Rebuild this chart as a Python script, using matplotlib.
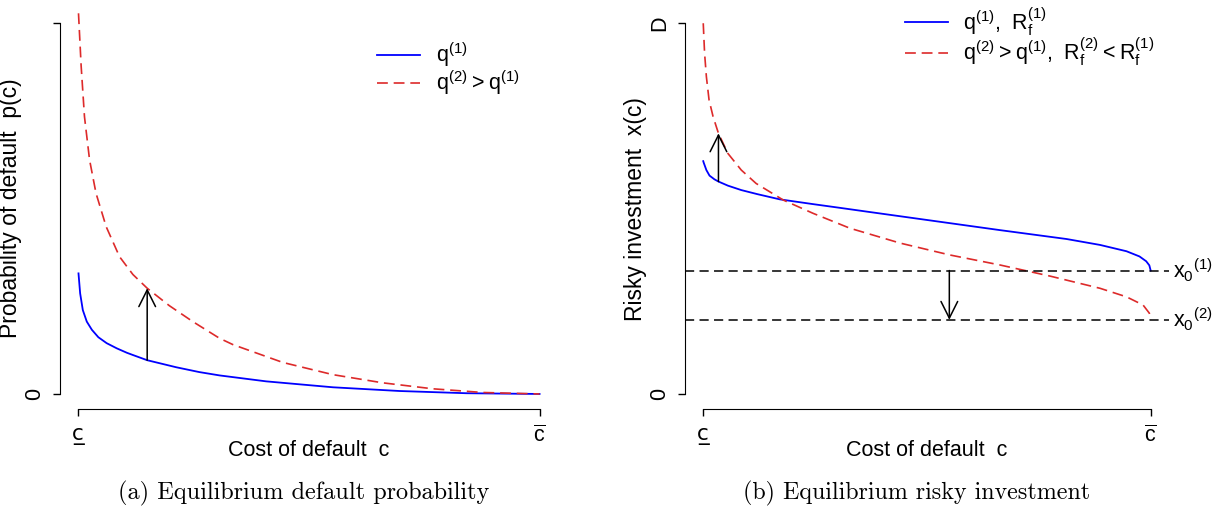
import numpy as np
import matplotlib
matplotlib.use("Agg")
import matplotlib.pyplot as plt

plt.rcParams['font.family'] = ['Liberation Sans', 'DejaVu Sans']

# (a) default probability, cost of default scaled to [0, 1]
c_a_blue = [0, 0.0036, 0.0094, 0.018, 0.029, 0.043, 0.061, 0.083, 0.105, 0.118,
            0.149, 0.212, 0.262, 0.306, 0.407, 0.552, 0.696, 0.841, 1.0]
p_q1 = [0.325, 0.271, 0.226, 0.195, 0.173, 0.153, 0.137, 0.123, 0.111, 0.105,
        0.091, 0.072, 0.059, 0.050, 0.034, 0.018, 0.008, 0.002, 0.0]
c_a_red = [0, 0.0058, 0.013, 0.024, 0.038, 0.06, 0.089, 0.118, 0.149, 0.197,
           0.248, 0.306, 0.335, 0.443, 0.552, 0.66, 0.768, 0.877, 1.0]
p_q2 = [1.026, 0.883, 0.747, 0.631, 0.541, 0.451, 0.370, 0.322, 0.285, 0.238,
        0.195, 0.150, 0.133, 0.085, 0.052, 0.030, 0.014, 0.004, 0.0]
arrow_a = (0.149, 0.091, 0.285)  # x, from, to

# (b) risky investment, scaled so that D = 1
c_b_blue = [0, 0.001, 0.007, 0.014, 0.025, 0.034, 0.055, 0.085, 0.121, 0.171,
            0.246, 0.306, 0.365, 0.514, 0.663, 0.812, 0.887, 0.946, 0.975,
            0.99, 0.997, 1.0]
x_q1 = [0.628, 0.624, 0.604, 0.589, 0.579, 0.573, 0.562, 0.550, 0.539, 0.525,
        0.512, 0.502, 0.492, 0.467, 0.442, 0.418, 0.402, 0.385, 0.371,
        0.358, 0.347, 0.333]
c_b_red = [0, 0.003, 0.007, 0.013, 0.022, 0.034, 0.055, 0.085, 0.118, 0.179,
           0.246, 0.328, 0.44, 0.551, 0.663, 0.775, 0.887, 0.946, 0.983, 0.997, 1.0]
x_q2 = [1.0, 0.919, 0.856, 0.793, 0.748, 0.703, 0.649, 0.604, 0.568, 0.523,
        0.487, 0.447, 0.407, 0.375, 0.348, 0.318, 0.285, 0.262, 0.24, 0.218, 0.2]
x0_levels = [0.333, 0.2]
x0_labels = [r'$\mathregular{{x_0}^{(1)}}$', r'$\mathregular{{x_0}^{(2)}}$']
arrow_b_up = (0.034, 0.573, 0.703)
arrow_b_down = (0.55, 0.333, 0.2)

xtick_labels = ['c\u0332', r'$\mathregular{\overline{c}}$']

blue = '#0000ff'
red = '#dd2a2a'
fs = 15.5

fig = plt.figure(figsize=(12.28, 5.13), dpi=100)
ax1 = fig.add_axes([0.0489, 0.2031, 0.4055, 0.7811])
ax2 = fig.add_axes([0.5581, 0.2031, 0.3935, 0.7805])


def style_axes(ax):
    # R-like detached axes
    ax.set_xlim(-0.04, 1.04)
    ax.set_ylim(-0.04, 1.04)
    for s in ['top', 'right']:
        ax.spines[s].set_visible(False)
    ax.spines['left'].set_bounds(0, 1)
    ax.spines['bottom'].set_bounds(0, 1)
    ax.set_xticks([0, 1])
    ax.set_xticklabels(xtick_labels, fontsize=fs)
    # underlined c: DejaVu puts the combining low line under the letter
    ax.get_xticklabels()[0].set_family('DejaVu Sans')
    ax.tick_params(axis='both', length=5, width=1, pad=6)
    ax.tick_params(axis='x', pad=7)
    ax.set_xlabel('Cost of default  c', fontsize=fs)
    ax.xaxis.set_label_coords(0.5, -0.078)


def draw_arrow(ax, x, y0, y1):
    ax.annotate('', xy=(x, y1), xytext=(x, y0),
                arrowprops=dict(arrowstyle='->,head_length=0.6,head_width=0.3',
                                mutation_scale=20, lw=1.1, color='black',
                                shrinkA=0, shrinkB=0))


# panel (a)
ax1.plot(c_a_blue, p_q1, color=blue, lw=1.3, label=r'$\mathregular{q^{(1)}}$')
ax1.plot(c_a_red, p_q2, color=red, lw=1.2, dashes=(6.5, 3.5), clip_on=False,
         label=r'$\mathregular{q^{(2)} > q^{(1)}}$')
draw_arrow(ax1, *arrow_a)
style_axes(ax1)
ax1.set_yticks([0, 1])
ax1.set_yticklabels(['0', ''], fontsize=fs, rotation=90, va='center')
ax1.set_ylabel('Probability of default  p(c)', fontsize=16.5)
ax1.yaxis.set_label_coords(-0.076, 0.5)
ax1.legend(loc='upper left', bbox_to_anchor=(0.62, 0.94), frameon=False,
           fontsize=fs, handlelength=2.0, handletextpad=0.7, labelspacing=-0.03,
           borderaxespad=0)

# panel (b)
ax2.plot(c_b_blue, x_q1, color=blue, lw=1.3, label=r'$\mathregular{q^{(1)},\ R_f^{(1)}}$')
ax2.plot(c_b_red, x_q2, color=red, lw=1.2, dashes=(6.5, 3.5),
         label=r'$\mathregular{q^{(2)} > q^{(1)},\ R_f^{(2)} < R_f^{(1)}}$')
for lev, lab in zip(x0_levels, x0_labels):
    ax2.axhline(lev, color='black', lw=1.1, dashes=(6, 3.5))
    ax2.text(1.05, lev, lab, fontsize=fs, va='center', ha='left', clip_on=False)
draw_arrow(ax2, *arrow_b_up)
draw_arrow(ax2, *arrow_b_down)
style_axes(ax2)
ax2.set_yticks([0, 1])
ax2.set_yticklabels(['0', 'D'], fontsize=fs, rotation=90, va='center')
ax2.set_ylabel('Risky investment  x(c)', fontsize=16.5)
ax2.yaxis.set_label_coords(-0.079, 0.5)
ax2.legend(loc='upper left', bbox_to_anchor=(0.436, 1.03), frameon=False,
           fontsize=fs, handlelength=2.0, handletextpad=0.7, labelspacing=-0.1,
           borderaxespad=0)

# captions
fig.text(0.2476, 0.039, '(a) Equilibrium default probability', fontsize=17.5,
         fontname='cmr10', ha='center', va='center')
fig.text(0.7460, 0.039, '(b) Equilibrium risky investment', fontsize=17.3,
         fontname='cmr10', ha='center', va='center')

fig.savefig('out.png', dpi=100)
